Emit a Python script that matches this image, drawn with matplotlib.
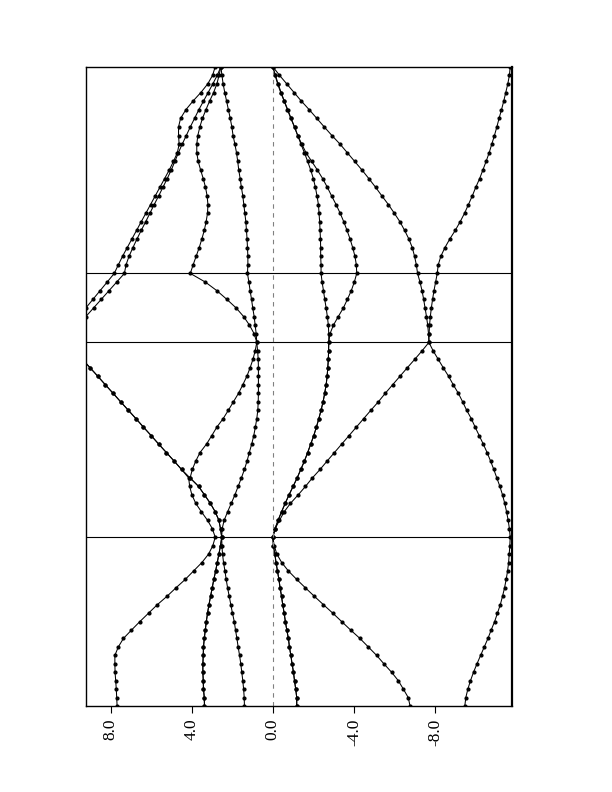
import numpy as np
import matplotlib
matplotlib.use("Agg")
import matplotlib.pyplot as plt

plt.rcParams['font.family'] = ['Liberation Serif', 'DejaVu Serif']

# path L - Gamma - X - U|K - Gamma, lengths in 2pi/a and number of intervals
seg_len = [0.866, 1.0, 0.354, 1.061]
seg_pts = [20, 23, 8, 24]

e_ticks = [8.0, 4.0, 0.0, -4.0, -8.0]
e_labels = ["8.0", "4.0", "0.0", "-4.0", "-8.0"]

# energies (eV), bands 1..8 for each segment (both end points included)
bands_LG = [
    [-9.47, -9.52, -9.62, -9.75, -9.90, -10.07, -10.25, -10.43, -10.61, -10.77, -10.94,
     -11.08, -11.22, -11.33, -11.43, -11.51, -11.58, -11.63, -11.66, -11.69, -11.71],
    [-6.77, -6.68, -6.44, -6.19, -5.86, -5.48, -5.12, -4.71, -4.30, -3.84, -3.40,
     -2.96, -2.50, -2.05, -1.61, -1.18, -0.77, -0.44, -0.20, -0.07, 0.0],
    [-1.18, -1.18, -1.13, -1.07, -1.02, -0.95, -0.89, -0.82, -0.77, -0.69, -0.62,
     -0.56, -0.49, -0.43, -0.36, -0.30, -0.23, -0.16, -0.10, -0.03, 0.0],
    [-1.18, -1.18, -1.13, -1.07, -1.02, -0.95, -0.89, -0.82, -0.77, -0.69, -0.62,
     -0.56, -0.49, -0.43, -0.36, -0.30, -0.23, -0.16, -0.10, -0.03, 0.0],
    [1.40, 1.41, 1.44, 1.48, 1.53, 1.58, 1.64, 1.71, 1.77, 1.84, 1.90,
     1.99, 2.07, 2.15, 2.23, 2.30, 2.36, 2.43, 2.48, 2.51, 2.52],
    [3.37, 3.38, 3.42, 3.43, 3.45, 3.45, 3.43, 3.42, 3.38, 3.33, 3.28,
     3.22, 3.15, 3.07, 2.99, 2.91, 2.82, 2.74, 2.66, 2.58, 2.52],
    [3.37, 3.38, 3.42, 3.43, 3.45, 3.45, 3.43, 3.42, 3.38, 3.33, 3.28,
     3.22, 3.15, 3.07, 2.99, 2.91, 2.82, 2.74, 2.66, 2.58, 2.52],
    [7.68, 7.70, 7.72, 7.75, 7.78, 7.79, 7.79, 7.62, 7.37, 6.97, 6.56,
     6.13, 5.70, 5.22, 4.78, 4.32, 3.91, 3.50, 3.17, 2.96, 2.84],
]

bands_GX = [
    [-11.71, -11.67, -11.61, -11.53, -11.44, -11.33, -11.20, -11.05, -10.90, -10.74, -10.57, -10.38,
     -10.18, -9.98, -9.79, -9.56, -9.36, -9.15, -8.90, -8.67, -8.41, -8.16, -7.91, -7.70],
    [0.0, -0.11, -0.33, -0.56, -0.87, -1.25, -1.61, -1.95, -2.33, -2.68, -3.04, -3.40,
     -3.76, -4.12, -4.48, -4.84, -5.21, -5.55, -5.91, -6.27, -6.63, -7.00, -7.36, -7.70],
    [0.0, -0.11, -0.26, -0.43, -0.61, -0.80, -1.00, -1.20, -1.38, -1.56, -1.72, -1.87,
     -2.02, -2.15, -2.27, -2.38, -2.48, -2.56, -2.63, -2.68, -2.71, -2.74, -2.75, -2.76],
    [0.0, -0.11, -0.26, -0.43, -0.61, -0.80, -1.00, -1.20, -1.38, -1.56, -1.72, -1.87,
     -2.02, -2.15, -2.27, -2.38, -2.48, -2.56, -2.63, -2.68, -2.71, -2.74, -2.75, -2.76],
    [2.52, 2.50, 2.40, 2.23, 2.05, 1.87, 1.71, 1.55, 1.40, 1.27, 1.16, 1.04,
     0.94, 0.86, 0.79, 0.74, 0.72, 0.71, 0.71, 0.71, 0.71, 0.72, 0.75, 0.79],
    [2.52, 2.58, 2.66, 2.84, 3.08, 3.37, 3.66, 4.08, 3.97, 3.80, 3.59, 3.27,
     3.01, 2.76, 2.45, 2.19, 1.94, 1.69, 1.48, 1.28, 1.12, 0.98, 0.87, 0.79],
    [2.52, 2.58, 2.66, 2.84, 3.08, 3.37, 3.66, 4.08, 4.50, 4.87, 5.25, 5.63,
     6.00, 6.38, 6.75, 7.13, 7.51, 7.88, 8.26, 8.63, 9.01, 9.39, 9.76, 10.1],
    [2.84, 2.98, 3.22, 3.52, 3.80, 3.99, 4.10, 4.15, 4.50, 4.87, 5.25, 5.63,
     6.00, 6.38, 6.75, 7.13, 7.51, 7.88, 8.26, 8.63, 9.01, 9.39, 9.76, 10.1],
]

bands_XU = [
    [-7.70, -7.71, -7.73, -7.77, -7.82, -7.88, -7.95, -8.03, -8.11],
    [-7.70, -7.68, -7.64, -7.58, -7.51, -7.44, -7.36, -7.26, -7.14],
    [-2.76, -2.82, -2.99, -3.23, -3.48, -3.68, -3.87, -4.02, -4.14],
    [-2.76, -2.76, -2.74, -2.69, -2.63, -2.56, -2.50, -2.43, -2.38],
    [0.79, 0.82, 0.87, 0.92, 0.99, 1.05, 1.12, 1.18, 1.25],
    [0.79, 0.92, 1.15, 1.44, 1.81, 2.27, 2.76, 3.33, 4.07],
    [10.1, 9.90, 9.58, 9.22, 8.84, 8.46, 8.08, 7.70, 7.32],
    [10.1, 10.1, 9.90, 9.57, 9.22, 8.87, 8.52, 8.17, 7.82],
]

bands_KG = [
    [-8.11, -8.16, -8.29, -8.49, -8.73, -9.00, -9.24, -9.46, -9.65, -9.84, -10.01, -10.20, -10.36,
     -10.52, -10.67, -10.80, -10.93, -11.05, -11.16, -11.28, -11.39, -11.49, -11.59, -11.67, -11.71],
    [-7.14, -7.08, -6.99, -6.88, -6.71, -6.50, -6.27, -5.99, -5.70, -5.38, -5.07, -4.74, -4.40,
     -4.04, -3.68, -3.32, -2.92, -2.54, -2.17, -1.80, -1.41, -1.05, -0.69, -0.33, 0.0],
    [-4.14, -4.12, -4.05, -3.94, -3.81, -3.66, -3.50, -3.32, -3.12, -2.90, -2.69, -2.46, -2.20,
     -1.92, -1.64, -1.43, -1.23, -1.07, -0.90, -0.74, -0.57, -0.41, -0.26, -0.13, 0.0],
    [-2.38, -2.38, -2.36, -2.36, -2.35, -2.33, -2.31, -2.28, -2.25, -2.18, -2.10, -2.00, -1.87,
     -1.72, -1.56, -1.39, -1.23, -1.07, -0.89, -0.72, -0.56, -0.39, -0.24, -0.11, 0.0],
    [1.25, 1.23, 1.23, 1.25, 1.27, 1.30, 1.33, 1.38, 1.43, 1.48, 1.55, 1.61, 1.68,
     1.73, 1.79, 1.87, 1.96, 2.02, 2.10, 2.19, 2.28, 2.37, 2.45, 2.51, 2.56],
    [4.07, 3.93, 3.78, 3.63, 3.50, 3.38, 3.29, 3.22, 3.20, 3.24, 3.32, 3.43, 3.56,
     3.68, 3.75, 3.75, 3.70, 3.60, 3.47, 3.30, 3.12, 2.92, 2.76, 2.65, 2.56],
    [7.32, 7.24, 7.09, 6.90, 6.70, 6.49, 6.27, 6.06, 5.85, 5.63, 5.42, 5.21, 5.01,
     4.83, 4.66, 4.47, 4.27, 4.07, 3.86, 3.65, 3.42, 3.19, 2.96, 2.74, 2.56],
    [7.82, 7.62, 7.41, 7.18, 6.95, 6.72, 6.49, 6.26, 6.03, 5.80, 5.57, 5.34, 5.11,
     4.90, 4.71, 4.62, 4.65, 4.65, 4.55, 4.29, 3.94, 3.55, 3.21, 2.97, 2.84],
]

segments = [bands_LG, bands_GX, bands_XU, bands_KG]

# k coordinates along the path
k = []
k_sym = [0.0]
start = 0.0
for i in range(len(seg_len)):
    kk = np.linspace(start, start + seg_len[i], seg_pts[i] + 1)
    if i > 0:
        kk = kk[1:]
    k.extend(kk)
    start += seg_len[i]
    k_sym.append(start)
k = np.array(k)

n_bands = len(bands_LG)
bands = []
for b in range(n_bands):
    e = list(segments[0][b])
    for seg in segments[1:]:
        e += list(seg[b][1:])
    bands.append(np.array(e))

fig = plt.figure(figsize=(6.12, 7.92), dpi=100)
ax = fig.add_axes([0.140, 0.1086, 0.697, 0.8072])

for e in bands:
    ax.plot(e, k, "-", color="black", lw=0.75, marker="o", markersize=2.0)

for ks in k_sym[1:-1]:
    ax.axhline(ks, color="black", lw=0.8)
ax.axvline(0.0, color="grey", ls=(0, (4, 4)), lw=0.8)

ax.set_xlim(9.23, -11.81)
ax.set_ylim(0, k_sym[-1])
ax.set_xticks(e_ticks)
ax.set_xticklabels(e_labels)
ax.set_yticks([])
ax.tick_params(axis="x", direction="out", length=5, width=0.8, labelrotation=90,
               labelsize=12.5, pad=4)
for s in ax.spines.values():
    s.set_linewidth(1.0)
ax.spines["right"].set_linewidth(1.6)

fig.savefig("out.png", dpi=100)
